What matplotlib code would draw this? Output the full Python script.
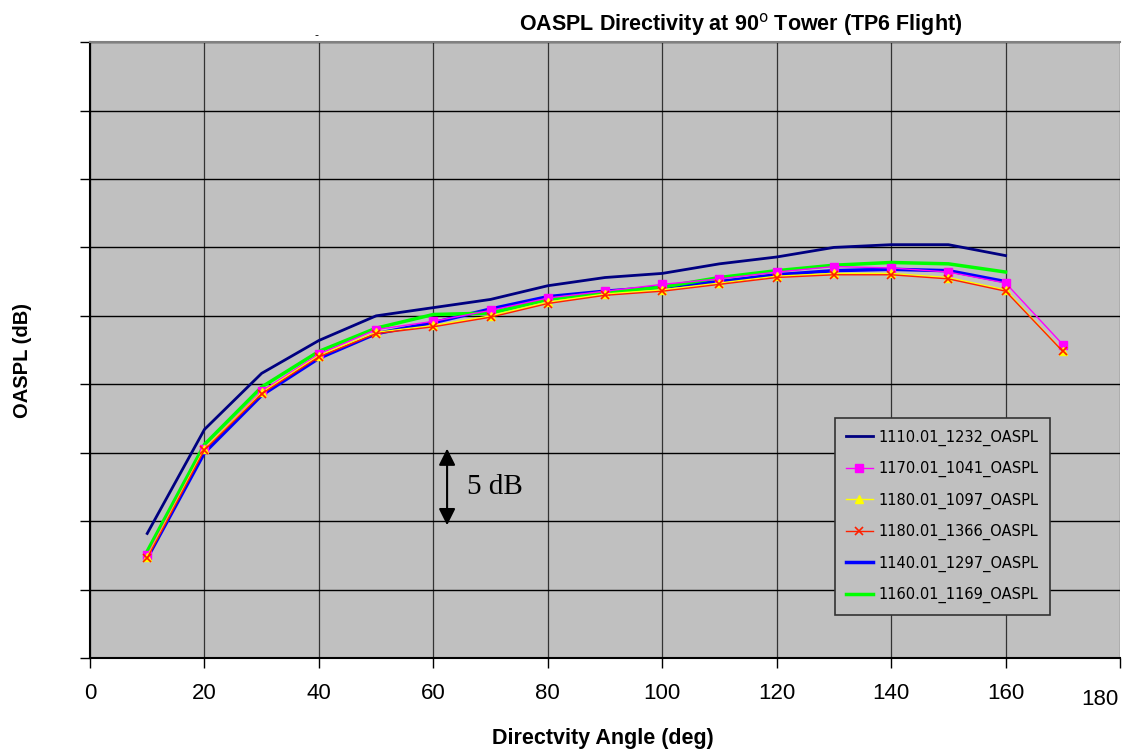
import matplotlib.pyplot as plt

# directivity angles (deg)
angles_a = [10, 20, 30, 40, 50, 60, 70, 80, 90, 100, 110, 120, 130, 140, 150, 160]
angles_b = angles_a + [170]

# OASPL values (dB)
oaspl_1110 = [69.1, 76.7, 80.8, 83.2, 85.0, 85.6, 86.2, 87.2, 87.8, 88.1, 88.8, 89.3, 90.0, 90.2, 90.2, 89.4]
oaspl_1170 = [67.5, 75.3, 79.5, 82.2, 84.0, 84.6, 85.4, 86.3, 86.8, 87.3, 87.7, 88.2, 88.6, 88.5, 88.2, 87.4, 82.9]
oaspl_1180a = [67.4, 75.3, 79.4, 82.1, 83.8, 84.3, 85.0, 86.0, 86.6, 86.9, 87.4, 87.9, 88.1, 88.1, 87.8, 86.9, 82.4]
oaspl_1180b = [67.3, 75.2, 79.3, 82.0, 83.7, 84.2, 84.9, 85.9, 86.5, 86.8, 87.3, 87.8, 88.0, 88.0, 87.7, 86.8, 82.4]
oaspl_1140 = [67.3, 75.0, 79.2, 81.9, 83.7, 84.5, 85.5, 86.4, 86.8, 87.1, 87.5, 88.0, 88.3, 88.4, 88.3, 87.5]
oaspl_1160 = [67.8, 75.6, 79.8, 82.4, 84.1, 85.1, 85.2, 86.2, 86.7, 87.1, 87.8, 88.3, 88.7, 88.9, 88.8, 88.2]

labels = ["1110.01_1232_OASPL", "1170.01_1041_OASPL", "1180.01_1097_OASPL",
          "1180.01_1366_OASPL", "1140.01_1297_OASPL", "1160.01_1169_OASPL"]

# 5 dB scale arrow
arrow_x = 62.4
arrow_y0, arrow_y1 = 69.7, 75.3

fig = plt.figure(figsize=(11.25, 7.52), dpi=100)
ax = fig.add_axes([0.08, 0.125, 0.9156, 0.819])
ax.set_facecolor("#C0C0C0")

ax.plot(angles_a, oaspl_1110, color="#000080", lw=2.0, label=labels[0], zorder=3)
ax.plot(angles_b, oaspl_1170, color="#FF00FF", lw=1.0, marker="s", ms=6, label=labels[1], zorder=6)
ax.plot(angles_b, oaspl_1180a, color="#FFFF00", lw=1.0, marker="^", ms=6, label=labels[2], zorder=7)
ax.plot(angles_b, oaspl_1180b, color="#FF2000", lw=1.0, marker="x", ms=6, mew=1.2, label=labels[3], zorder=8)
ax.plot(angles_a, oaspl_1140, color="#0000FF", lw=2.5, label=labels[4], zorder=4)
ax.plot(angles_a, oaspl_1160, color="#00FF00", lw=2.5, label=labels[5], zorder=5)

ax.set_xlim(0, 180)
ax.set_ylim(60, 105)
ax.set_xticks(range(0, 181, 20))
ax.set_xticklabels([str(v) for v in range(0, 161, 20)] + [""], fontsize=16,
                   family="Liberation Sans")
ax.set_yticks(range(60, 106, 5))
ax.set_yticklabels([])
ax.tick_params(axis="both", direction="out", length=7, width=1, color="black", pad=11)

ax.grid(True, color="black", lw=1.0, zorder=1)
ax.xaxis.grid(True, color="#333333", lw=0.9)
ax.set_axisbelow(True)

ax.spines["right"].set_visible(False)
ax.spines["top"].set_color("#808080")
ax.spines["top"].set_linewidth(1.5)
ax.spines["left"].set_linewidth(1.5)
ax.spines["bottom"].set_linewidth(1.5)

# odd offset "180" label
t180 = ax.text(176.5, 57.0, "180", fontsize=16, family="Liberation Sans",
               ha="center", va="center")
t180.set_clip_on(False)

ax.annotate("", xy=(arrow_x, arrow_y1), xytext=(arrow_x, arrow_y0),
            arrowprops=dict(arrowstyle="<|-|>,head_length=1.0,head_width=0.5",
                            color="black", lw=1.5, shrinkA=0, shrinkB=0), zorder=9)
ax.text(arrow_x + 3.5, (arrow_y0 + arrow_y1) / 2, "5 dB", fontsize=21,
        family="Liberation Serif", va="center", ha="left", zorder=9)

leg = ax.legend(loc="lower right", bbox_to_anchor=(0.932, 0.07), fontsize=10.5,
                frameon=True, fancybox=False, framealpha=1, handlelength=1.8,
                handletextpad=0.4, labelspacing=1.05, borderpad=0.8, borderaxespad=0)
leg.get_frame().set_facecolor("#C0C0C0")
leg.get_frame().set_edgecolor("#333333")
leg.get_frame().set_linewidth(1.2)

fig.text(0.658, 0.967, "OASPL Directivity at 90$^\\mathrm{o}$ Tower (TP6 Flight)",
         ha="center", va="center", fontsize=15.5, fontweight="bold", family="Liberation Sans")
fig.text(0.281, 0.953, "-", fontsize=8, ha="center", va="center")
fig.text(0.02, 0.521, "OASPL (dB)", rotation=90, ha="center", va="center",
         fontsize=14.5, fontweight="bold", family="Liberation Sans")
fig.text(0.536, 0.018, "Directvity Angle (deg)", ha="center", va="center",
         fontsize=15.5, fontweight="bold", family="Liberation Sans")

fig.savefig("out.png", dpi=100)
